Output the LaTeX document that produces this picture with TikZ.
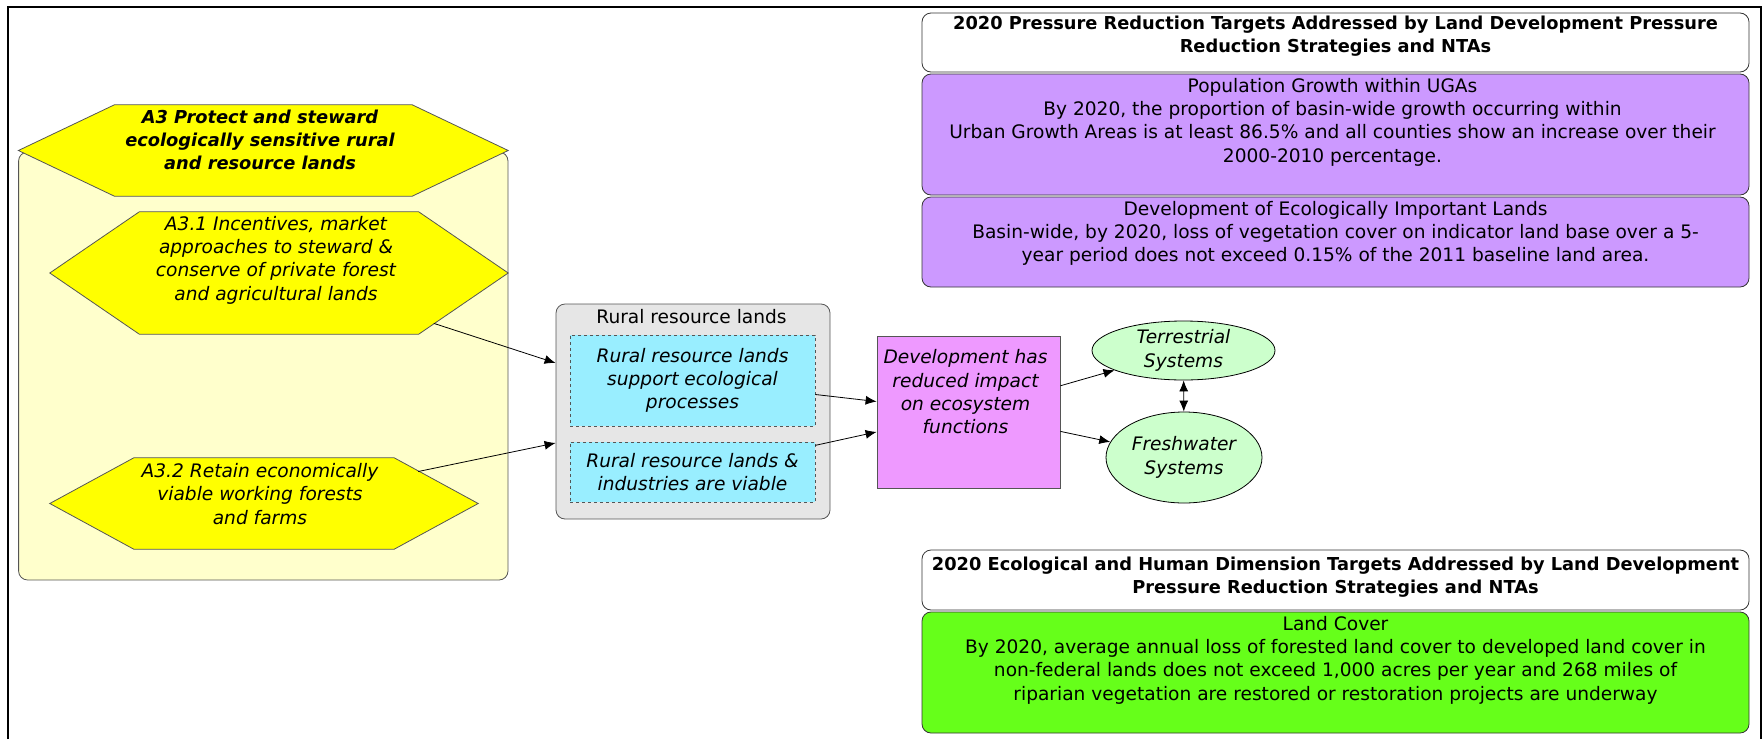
\documentclass[tikz,border=0pt]{standalone}
\usepackage{fontspec}
\setmainfont{DejaVu Sans}
\usetikzlibrary{shapes.geometric,arrows.meta}

\definecolor{hexyellow}{RGB}{255,255,0}
\definecolor{paleyellow}{RGB}{255,255,204}
\definecolor{groupgrey}{RGB}{230,230,230}
\definecolor{factorcyan}{RGB}{153,238,255}
\definecolor{impactpink}{RGB}{238,153,255}
\definecolor{systemgreen}{RGB}{204,255,204}
\definecolor{targetpurple}{RGB}{204,153,255}
\definecolor{targetgreen}{RGB}{102,255,26}
\definecolor{edgegrey}{RGB}{85,85,85}

\newcommand{\bodyfont}{\fontsize{18.6}{23.3}\selectfont}
\newcommand{\headfont}{\fontsize{17.8}{23.3}\selectfont\bfseries}

\begin{document}
\begin{tikzpicture}[x=1pt,y=-1pt,
    every node/.style={font=\bodyfont, align=center, inner sep=0pt},
    hexframe/.style={rectangle, draw=none},
    hexline/.style={draw=edgegrey, fill=hexyellow, line width=0.8pt},
    panelbox/.style={rectangle, rounded corners=9pt, draw=edgegrey, fill=paleyellow, line width=0.8pt},
    groupbox/.style={rectangle, rounded corners=9pt, draw=edgegrey, fill=groupgrey, line width=0.8pt},
    factorbox/.style={rectangle, draw=edgegrey, dashed, fill=factorcyan, line width=0.8pt, font=\bodyfont\itshape},
    impactbox/.style={rectangle, draw=edgegrey, fill=impactpink, line width=0.8pt},
    systembox/.style={ellipse, draw=black, fill=systemgreen, line width=0.8pt, font=\bodyfont\itshape},
    targetbox/.style={rectangle, rounded corners=9pt, draw=black!80, line width=0.8pt, minimum width=827},
    link/.style={-{Latex[length=11pt,width=9pt]}, line width=0.8pt}
  ]
  \useasboundingbox (0,0) rectangle (1763,739);

  % outer frame (open at the bottom)
  \draw[line width=1.5pt] (8,739) -- (8,7) -- (1761,7) -- (1761,739);

  % strategy panel and hexagons
  \node[panelbox, minimum width=489.4, minimum height=428] (panel) at (263.3,366) {};
  \node[hexframe, minimum width=489.4, minimum height=91] (A3) at (263.3,150.5) {};
  \node[hexframe, minimum width=458, minimum height=122] (A31) at (279,273) {};
  \node[hexframe, minimum width=428, minimum height=91] (A32) at (264,503.5) {};
  \foreach \h/\d in {A3/96, A31/89.5, A32/84} {
    \draw[hexline] (\h.west) -- ([xshift=\d pt]\h.north west) -- ([xshift=-\d pt]\h.north east)
      -- (\h.east) -- ([xshift=-\d pt]\h.south east) -- ([xshift=\d pt]\h.south west) -- cycle;
  }

  \node[font=\headfont\itshape] (a3text) at (260,140)
    {A3 Protect and steward\\ecologically sensitive rural\\and resource lands};
  \node[font=\bodyfont\itshape] (a31text) at (276,260)
    {A3.1 Incentives, market\\approaches to steward \&\\conserve of private forest\\and agricultural lands};
  \node[font=\bodyfont\itshape] (a32text) at (260,494)
    {A3.2 Retain economically\\viable working forests\\and farms};

  % rural resource lands group
  \node[groupbox, minimum width=274, minimum height=215] (rural) at (693,411.5) {};
  \node (ruraltitle) at (691.5,317) {Rural resource lands};
  \node[factorbox, minimum width=245, minimum height=91] (support) at (692.5,380.5)
    {Rural resource lands\\support ecological\\processes};
  \node[factorbox, minimum width=245, minimum height=60] (viable) at (692.5,472)
    {Rural resource lands \&\\industries are viable};

  % impact and ecosystems
  \node[impactbox, minimum width=183, minimum height=152] (impact) at (968.5,412) {};
  \node[font=\bodyfont\itshape] (impacttext) at (965.5,392)
    {Development has\\reduced impact\\on ecosystem\\functions};
  \node[systembox, minimum width=183, minimum height=59] (terr) at (1183.5,350.5) {Terrestrial\\Systems};
  \node[systembox, minimum width=156, minimum height=91] (fresh) at (1184,457.5) {Freshwater\\Systems};

  % targets
  \node[targetbox, fill=white, minimum height=59] (title1) at (1335.5,42.5) {};
  \node[targetbox, fill=targetpurple, minimum height=121] (ugas) at (1335.5,134.5) {};
  \node[targetbox, fill=targetpurple, minimum height=90] (eil) at (1335.5,242) {};
  \node[targetbox, fill=white, minimum height=60] (title2) at (1335.5,580) {};
  \node[targetbox, fill=targetgreen, minimum height=121] (cover) at (1335.5,672.5) {};

  \node[font=\headfont] (title1text) at (1335.5,36.5)
    {2020 Pressure Reduction Targets Addressed by Land Development Pressure\\Reduction Strategies and NTAs};
  \node (ugastext) at (1332.5,122)
    {Population Growth within UGAs\\By 2020, the proportion of basin-wide growth occurring within\\Urban Growth Areas is at least 86.5\% and all counties show an increase over their\\2000-2010 percentage.};
  \node (eiltext) at (1335.5,233.5)
    {Development of Ecologically Important Lands\\Basin-wide, by 2020, loss of vegetation cover on indicator land base over a 5-\\year period does not exceed 0.15\% of the 2011 baseline land area.};
  \node[font=\headfont] (title2text) at (1335.5,577)
    {2020 Ecological and Human Dimension Targets Addressed by Land Development\\Pressure Reduction Strategies and NTAs};
  \node (covertext) at (1335.5,660)
    {Land Cover\\By 2020, average annual loss of forested land cover to developed land cover in\\non-federal lands does not exceed 1,000 acres per year and 268 miles of\\riparian vegetation are restored or restoration projects are underway};

  % connectors (strategies start on the hexagon edge)
  \draw[link, shorten <=162.8pt] (A31.center) -- ([yshift=48.5pt]rural.west);
  \draw[link, shorten <=157.5pt] (A32.center) -- ([yshift=-31.5pt]rural.west);
  \draw[link] (support) -- (impact);
  \draw[link] (viable) -- (impact);
  \draw[link] (impact) -- (terr);
  \draw[link] (impact) -- (fresh);
  \draw[{Latex[length=11pt,width=9pt]}-{Latex[length=11pt,width=9pt]}, line width=0.8pt] (terr) -- (fresh);
\end{tikzpicture}
\end{document}
